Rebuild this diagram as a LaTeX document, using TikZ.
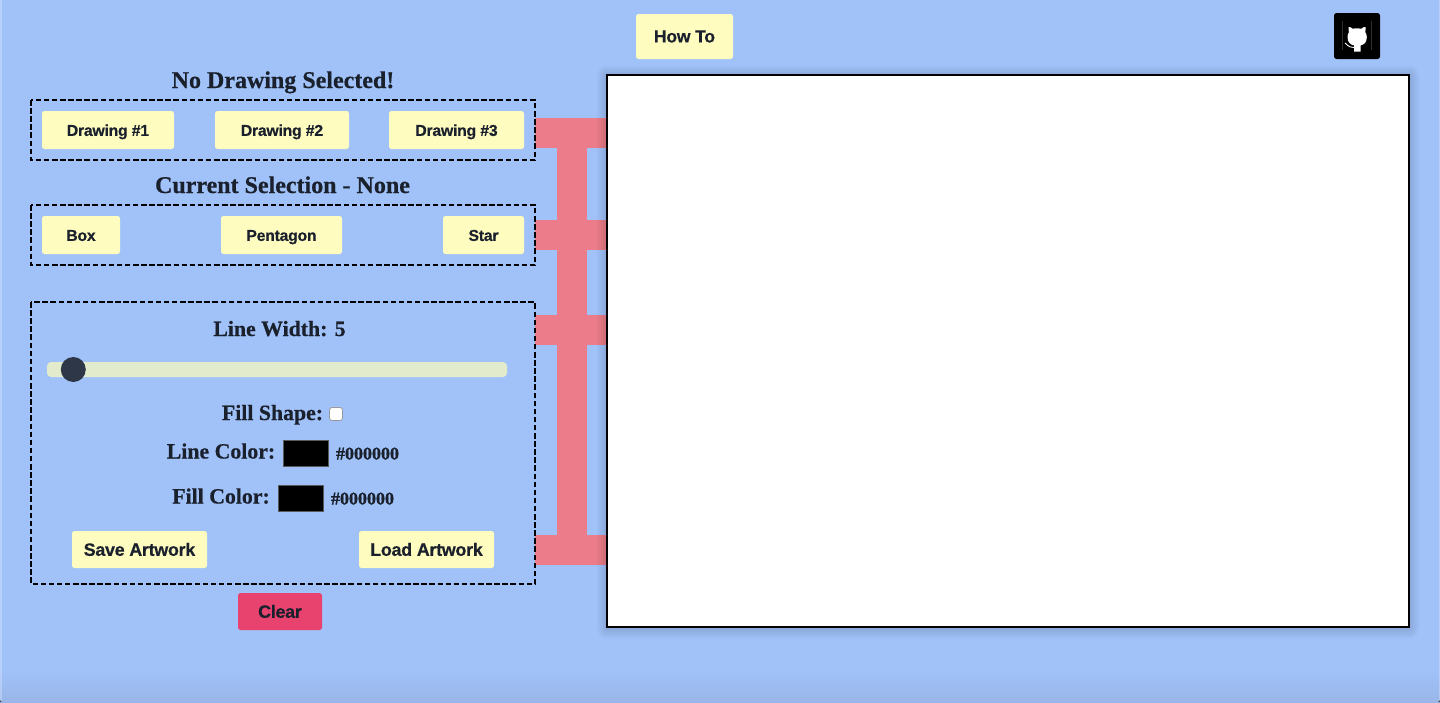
\documentclass[tikz,border=0pt]{standalone}
\usepackage{fontspec}
\setmainfont{Liberation Serif}[BoldFeatures={FakeBold=0.5}]
\newfontfamily\btnfont{Liberation Sans}[BoldFeatures={FakeBold=0.4},LetterSpace=-1.6]
\definecolor{bgblue}{HTML}{A0C2F9}
\definecolor{btnyellow}{HTML}{FEFCBF}
\definecolor{inkdark}{HTML}{1A202C}
\definecolor{barpink}{HTML}{EC7C8A}
\definecolor{trackgreen}{HTML}{E2EBCB}
\definecolor{thumbdark}{HTML}{2D3748}
\definecolor{clearpink}{HTML}{E8436F}
\definecolor{bgbottom}{HTML}{9AB6E8}
\tikzset{
  x=1pt,y=-1pt,
  sized/.style 2 args={minimum width=#1pt,minimum height=#2pt},
  btnbase/.style={rounded corners=2.5pt,inner sep=0,outer sep=0,text=inkdark,
    font=\btnfont\bfseries\fontsize{15.8}{16}\selectfont,text height=11.8pt,text depth=0pt},
  yellowbtn/.style={btnbase,fill=btnyellow},
  bigbtn/.style={btnbase,sized={#1}{37},font=\btnfont\bfseries\fontsize{17.9}{18}\selectfont,text height=12.6pt},
  panelgeom/.style={inner sep=0,outer sep=0},
  panelline/.style={draw=black,line width=2pt,dash pattern=on 5.5pt off 2.6pt},
  title/.style={anchor=base,inner sep=0,outer sep=0,text=inkdark,font=\bfseries\fontsize{24}{24}\selectfont},
  label/.style={anchor=base,inner sep=0,outer sep=0,text=inkdark,font=\bfseries\fontsize{21.8}{22}\selectfont},
  hexlabel/.style={anchor=base,inner sep=0,outer sep=0,text=inkdark,font=\bfseries\fontsize{18}{18}\selectfont},
  swatch/.style={fill=black,draw=black!65!white,line width=1pt,inner sep=0,outer sep=0,sized={45}{26}},
  barline/.style={draw=barpink,line width=30pt},
}
\begin{document}
\begin{tikzpicture}
\useasboundingbox (0,0) rectangle (1440,702);
\fill[bgblue] (0,0) rectangle (1440,702);
% soft darkening along the bottom edge
\fill[top color=bgblue,bottom color=bgbottom] (0,668) rectangle (1440,702);
\fill[white,opacity=.25] (0,0) rectangle (1.5,702);
\fill[white,opacity=.25] (1438.5,0) rectangle (1440,702);
\fill[inkdark!80!white] (0,702) -- (0,700) -- (2,702) -- cycle;
\fill[inkdark!80!white] (1440,702) -- (1440,700) -- (1438,702) -- cycle;

% panels (geometry first, border after the connectors)
\node[panelgeom,sized={504}{60}] (panelA) at (283,130) {};
\node[panelgeom,sized={504}{60}] (panelB) at (283,235) {};
\node[panelgeom,sized={504}{282}] (panelC) at (283,443) {};

% connector anchors
\coordinate (canvasW) at (607,0);
\coordinate (busN) at (572,118);
\coordinate (busS) at (572,565);

% pink connectors
\draw[barline] (panelA.east |- 0,133) -- (canvasW |- 0,133);
\draw[barline] (panelB.east |- 0,235) -- (canvasW |- 0,235);
\draw[barline] (panelC.east |- 0,330) -- (canvasW |- 0,330);
\draw[barline] (panelC.east |- 0,550) -- (canvasW |- 0,550);
\draw[barline] (busN) -- (busS);

% panel borders
\draw[panelline] (panelA.north west) rectangle (panelA.south east);
\draw[panelline] (panelB.north west) rectangle (panelB.south east);
\draw[panelline] (panelC.north west) rectangle (panelC.south east);

% canvas shadow and canvas
\foreach \s in {10,8,6,4,2}
  \fill[black,opacity=.022,rounded corners=\s pt] (607-\s,75-\s+1) rectangle (1409+\s,627+\s+1);
\node[fill=white,draw=black,line width=2pt,inner sep=0,outer sep=0,sized={802}{552}] (canvas) at (1008,351) {};

% top bar
\node[yellowbtn,sized={97}{45},font=\btnfont\bfseries\fontsize{17.6}{18}\selectfont] (howto) at (684.5,36.5) {How To};
\node[fill=black,rounded corners=2.5pt,inner sep=0,outer sep=0,sized={46}{46}] (github) at (1357,36) {};
\draw[white,line width=.3pt,opacity=.18] (1342.5,21) -- (1342.5,50) (1371,21) -- (1371,50);
\fill[white] (1354,51.5) -- (1354,45.5) .. controls (1350,44.5) and (1347.5,42) .. (1347.5,37)
  .. controls (1347.5,35) and (1348,33.5) .. (1348.8,32.5)
  -- (1348.6,27) .. controls (1350,26.8) and (1351.5,27.5) .. (1352.8,28.8)
  .. controls (1355,28.2) and (1359,28.2) .. (1361.2,28.8)
  .. controls (1362.5,27.5) and (1364,26.8) .. (1365.6,27)
  -- (1365.4,32.5)
  .. controls (1366.2,33.5) and (1366.8,35) .. (1366.8,37)
  .. controls (1366.8,42) and (1364.5,44.5) .. (1360.5,45.5)
  -- (1360.5,51.5) -- cycle;
\draw[white,line width=.9pt] (1345,43) .. controls (1347,44) and (1348,47.5) .. (1354,47.5);

% headings and first two rows
\node[title] (head) at (283,88) {No Drawing Selected!};
\node[yellowbtn,sized={132}{38}] (draw1) at (108,130) {Drawing \#1};
\node[yellowbtn,sized={134}{38}] (draw2) at (282,130) {Drawing \#2};
\node[yellowbtn,sized={135}{38}] (draw3) at (456.5,130) {Drawing \#3};
\node[title] (current) at (282.5,193) {Current Selection - None};
\node[yellowbtn,sized={78}{38}] (box) at (81,235) {Box};
\node[yellowbtn,sized={121}{38}] (penta) at (281.5,235) {Pentagon};
\node[yellowbtn,sized={81}{38}] (star) at (483.5,235) {Star};

% settings panel
\node[label] (lw) at (279.5,336) {Line Width: 5};
\node[fill=trackgreen,rounded corners=4pt,inner sep=0,outer sep=0,sized={460}{15}] (track) at (277,369.5) {};
\fill[thumbdark] (73.3,369.5) circle [radius=12.5];
\node[label] (fs) at (272.5,420) {Fill Shape:};
\node[fill=white,draw=black!40!white,line width=.8pt,rounded corners=2.5pt,inner sep=0,outer sep=0,sized={13}{13}] (check) at (336,414) {};
\node[label] (lc) at (221,458.5) {Line Color:};
\node[swatch] (lcs) at (306,453.5) {};
\node[hexlabel] (lch) at (367.5,459.5) {\#000000};
\node[label] (fc) at (221,503.5) {Fill Color:};
\node[swatch] (fcs) at (301,498.5) {};
\node[hexlabel] (fch) at (362.5,504.5) {\#000000};
\node[bigbtn=135,fill=btnyellow] (save) at (139.5,549.5) {Save Artwork};
\node[bigbtn=135,fill=btnyellow] (load) at (426.5,549.5) {Load Artwork};
\node[bigbtn=84,fill=clearpink] (clear) at (280,611.5) {Clear};
\end{tikzpicture}
\end{document}
